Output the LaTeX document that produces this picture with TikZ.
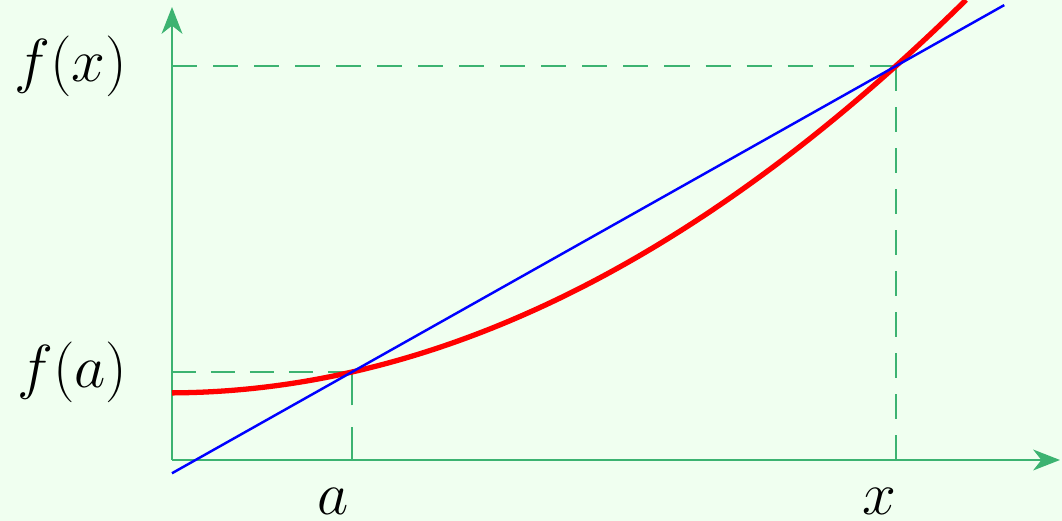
\documentclass[tikz,border=0pt]{standalone}
\usepackage{amsmath,amssymb}
\usepackage{tikz}
\usetikzlibrary{arrows.meta,calc}
\usepackage{xcolor}
\definecolor{axisgreen}{HTML}{3CB371}
\definecolor{paper}{HTML}{F0FFF0}

\begin{document}
\begin{tikzpicture}[x=0.01cm,y=0.01cm,>={Stealth[length=7.6pt,width=5.9pt,inset=2.3pt]},
  font=\fontsize{16}{19}\selectfont,
  axis/.style={axisgreen,line width=0.8pt},
  guide/.style={axisgreen,line width=0.8pt,dash pattern=on 7.12pt off 4.55pt}]
\fill[paper] (0,0) rectangle (1062,521);
\useasboundingbox (0,0) rectangle (1062,521);
\coordinate (O) at (172,61);
\coordinate (A) at (352,149);
\coordinate (X) at (896,455);
% guide lines
\draw[guide] (O |- X) -- (X);
\draw[guide] (O -| X) -- (X);
\draw[guide,dash pattern=on 6.77pt off 4.32pt] (O |- A) -- (A);
\draw[guide,dash pattern=on 9.47pt off 6.09pt] (O -| A) -- (A);
% axes
\draw[axis,->] (O) -- (1060,61);
\draw[axis,->] (O) -- (172,514);
% curve and secant
\draw[red,line width=1.5pt] plot[domain=172:966,samples=120] (\x,{128.1+(0.024836*(\x-168))^2});
\draw[blue,line width=0.7pt] ($(A)!-0.331!(X)$) -- ($(A)!1.199!(X)$);
\node[anchor=east,inner sep=0] (fx) at (128,455) {$f(x)$};
\node[anchor=east,inner sep=0] (fa) at (128,149) {$f(a)$};
\node[anchor=base,inner sep=0] (la) at (333,6) {$a$};
\node[anchor=base,inner sep=0] (lx) at (879,6) {$x$};
\end{tikzpicture}
\end{document}
